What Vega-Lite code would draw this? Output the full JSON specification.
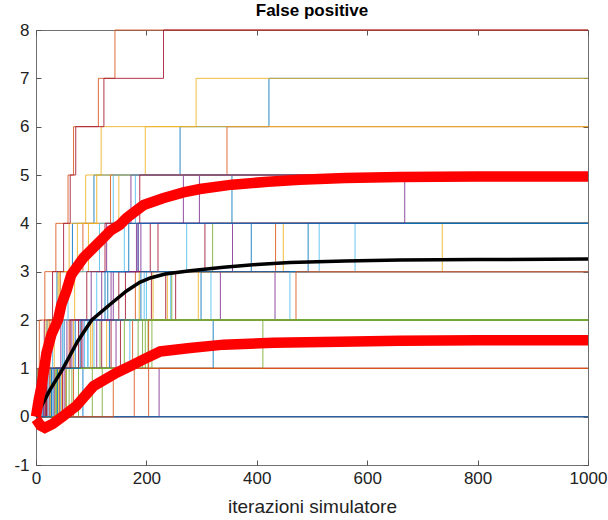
{
  "$schema": "https://vega.github.io/schema/vega-lite/v6.json",
  "width": 552,
  "height": 435,
  "autosize": "none",
  "padding": {"left": 36, "top": 30, "right": 20, "bottom": 55},
  "config": {
    "font": "Liberation Sans",
    "view": {"stroke": "#707070", "strokeWidth": 1},
    "axis": {"grid": false, "domain": false, "labelColor": "#222222", "tickColor": "#555555", "titleColor": "#222222"}
  },
  "title": {"text": "False positive", "fontSize": 17, "fontWeight": "bold", "color": "#000000", "offset": 1, "anchor": "middle"},
  "datasets": {
    "runs": [
      {"r":"r00","it":0,"fp":0},{"r":"r00","it":14,"fp":1},{"r":"r00","it":51,"fp":2},{"r":"r00","it":299,"fp":3},{"r":"r00","it":390,"fp":4},{"r":"r00","it":1000,"fp":4},
      {"r":"r01","it":0,"fp":0},{"r":"r01","it":3,"fp":1},{"r":"r01","it":6,"fp":2},{"r":"r01","it":16,"fp":3},{"r":"r01","it":36,"fp":4},{"r":"r01","it":58,"fp":5},{"r":"r01","it":68,"fp":6},{"r":"r01","it":113,"fp":7},{"r":"r01","it":143,"fp":8},{"r":"r01","it":1000,"fp":8},
      {"r":"r02","it":0,"fp":0},{"r":"r02","it":20,"fp":1},{"r":"r02","it":68,"fp":2},{"r":"r02","it":187,"fp":3},{"r":"r02","it":1000,"fp":3},
      {"r":"r03","it":0,"fp":0},{"r":"r03","it":31,"fp":1},{"r":"r03","it":110,"fp":2},{"r":"r03","it":433,"fp":3},{"r":"r03","it":1000,"fp":3},
      {"r":"r04","it":0,"fp":0},{"r":"r04","it":37,"fp":1},{"r":"r04","it":193,"fp":2},{"r":"r04","it":1000,"fp":2},
      {"r":"r05","it":0,"fp":0},{"r":"r05","it":17,"fp":1},{"r":"r05","it":94,"fp":2},{"r":"r05","it":244,"fp":3},{"r":"r05","it":1000,"fp":3},
      {"r":"r06","it":0,"fp":0},{"r":"r06","it":24,"fp":1},{"r":"r06","it":82,"fp":2},{"r":"r06","it":162,"fp":3},{"r":"r06","it":207,"fp":4},{"r":"r06","it":1000,"fp":4},
      {"r":"r07","it":0,"fp":0},{"r":"r07","it":27,"fp":1},{"r":"r07","it":71,"fp":2},{"r":"r07","it":130,"fp":3},{"r":"r07","it":185,"fp":4},{"r":"r07","it":355,"fp":5},{"r":"r07","it":1000,"fp":5},
      {"r":"r08","it":0,"fp":0},{"r":"r08","it":15,"fp":1},{"r":"r08","it":60,"fp":2},{"r":"r08","it":180,"fp":3},{"r":"r08","it":434,"fp":4},{"r":"r08","it":1000,"fp":4},
      {"r":"r09","it":0,"fp":0},{"r":"r09","it":41,"fp":1},{"r":"r09","it":102,"fp":2},{"r":"r09","it":238,"fp":3},{"r":"r09","it":736,"fp":4},{"r":"r09","it":1000,"fp":4},
      {"r":"r10","it":0,"fp":0},{"r":"r10","it":51,"fp":1},{"r":"r10","it":145,"fp":2},{"r":"r10","it":334,"fp":3},{"r":"r10","it":356,"fp":4},{"r":"r10","it":1000,"fp":4},
      {"r":"r11","it":0,"fp":0},{"r":"r11","it":60,"fp":1},{"r":"r11","it":198,"fp":2},{"r":"r11","it":1000,"fp":2},
      {"r":"r12","it":0,"fp":0},{"r":"r12","it":22,"fp":1},{"r":"r12","it":88,"fp":2},{"r":"r12","it":196,"fp":3},{"r":"r12","it":578,"fp":4},{"r":"r12","it":1000,"fp":4},
      {"r":"r13","it":0,"fp":0},{"r":"r13","it":34,"fp":1},{"r":"r13","it":119,"fp":2},{"r":"r13","it":235,"fp":3},{"r":"r13","it":306,"fp":4},{"r":"r13","it":1000,"fp":4},
      {"r":"r14","it":0,"fp":0},{"r":"r14","it":4,"fp":1},{"r":"r14","it":20,"fp":2},{"r":"r14","it":38,"fp":3},{"r":"r14","it":66,"fp":4},{"r":"r14","it":105,"fp":5},{"r":"r14","it":261,"fp":6},{"r":"r14","it":422,"fp":7},{"r":"r14","it":1000,"fp":7},
      {"r":"r15","it":0,"fp":0},{"r":"r15","it":68,"fp":1},{"r":"r15","it":175,"fp":2},{"r":"r15","it":1000,"fp":2},
      {"r":"r16","it":0,"fp":0},{"r":"r16","it":46,"fp":1},{"r":"r16","it":128,"fp":2},{"r":"r16","it":294,"fp":3},{"r":"r16","it":1000,"fp":3},
      {"r":"r17","it":0,"fp":0},{"r":"r17","it":12,"fp":1},{"r":"r17","it":56,"fp":2},{"r":"r17","it":119,"fp":3},{"r":"r17","it":190,"fp":4},{"r":"r17","it":267,"fp":5},{"r":"r17","it":1000,"fp":5},
      {"r":"r18","it":0,"fp":0},{"r":"r18","it":77,"fp":1},{"r":"r18","it":203,"fp":2},{"r":"r18","it":1000,"fp":2},
      {"r":"r19","it":0,"fp":0},{"r":"r19","it":32,"fp":1},{"r":"r19","it":105,"fp":2},{"r":"r19","it":317,"fp":3},{"r":"r19","it":513,"fp":4},{"r":"r19","it":1000,"fp":4},
      {"r":"r20","it":0,"fp":0},{"r":"r20","it":43,"fp":1},{"r":"r20","it":136,"fp":2},{"r":"r20","it":253,"fp":3},{"r":"r20","it":1000,"fp":3},
      {"r":"r21","it":0,"fp":0},{"r":"r21","it":85,"fp":1},{"r":"r21","it":321,"fp":2},{"r":"r21","it":1000,"fp":2},
      {"r":"r22","it":0,"fp":0},{"r":"r22","it":6,"fp":1},{"r":"r22","it":25,"fp":2},{"r":"r22","it":44,"fp":3},{"r":"r22","it":85,"fp":4},{"r":"r22","it":135,"fp":5},{"r":"r22","it":346,"fp":6},{"r":"r22","it":1000,"fp":6},
      {"r":"r23","it":0,"fp":0},{"r":"r23","it":26,"fp":1},{"r":"r23","it":99,"fp":2},{"r":"r23","it":212,"fp":3},{"r":"r23","it":448,"fp":4},{"r":"r23","it":1000,"fp":4},
      {"r":"r24","it":0,"fp":0},{"r":"r24","it":223,"fp":1},{"r":"r24","it":1000,"fp":1},
      {"r":"r25","it":0,"fp":0},{"r":"r25","it":36,"fp":1},{"r":"r25","it":116,"fp":2},{"r":"r25","it":246,"fp":3},{"r":"r25","it":320,"fp":4},{"r":"r25","it":1000,"fp":4},
      {"r":"r26","it":0,"fp":0},{"r":"r26","it":29,"fp":1},{"r":"r26","it":94,"fp":2},{"r":"r26","it":200,"fp":3},{"r":"r26","it":273,"fp":4},{"r":"r26","it":1000,"fp":4},
      {"r":"r27","it":0,"fp":0},{"r":"r27","it":48,"fp":1},{"r":"r27","it":153,"fp":2},{"r":"r27","it":209,"fp":3},{"r":"r27","it":1000,"fp":3},
      {"r":"r28","it":0,"fp":0},{"r":"r28","it":1000,"fp":0},
      {"r":"r29","it":0,"fp":0},{"r":"r29","it":204,"fp":1},{"r":"r29","it":1000,"fp":1},
      {"r":"r30","it":0,"fp":0},{"r":"r30","it":8,"fp":1},{"r":"r30","it":22,"fp":2},{"r":"r30","it":42,"fp":3},{"r":"r30","it":75,"fp":4},{"r":"r30","it":110,"fp":5},{"r":"r30","it":198,"fp":6},{"r":"r30","it":1000,"fp":6},
      {"r":"r31","it":0,"fp":0},{"r":"r31","it":20,"fp":1},{"r":"r31","it":65,"fp":2},{"r":"r31","it":136,"fp":3},{"r":"r31","it":182,"fp":4},{"r":"r31","it":296,"fp":5},{"r":"r31","it":1000,"fp":5},
      {"r":"r32","it":0,"fp":0},{"r":"r32","it":102,"fp":1},{"r":"r32","it":411,"fp":2},{"r":"r32","it":1000,"fp":2},
      {"r":"r33","it":0,"fp":0},{"r":"r33","it":44,"fp":1},{"r":"r33","it":170,"fp":2},{"r":"r33","it":460,"fp":3},{"r":"r33","it":1000,"fp":3},
      {"r":"r34","it":0,"fp":0},{"r":"r34","it":19,"fp":1},{"r":"r34","it":77,"fp":2},{"r":"r34","it":150,"fp":3},{"r":"r34","it":221,"fp":4},{"r":"r34","it":1000,"fp":4},
      {"r":"r35","it":0,"fp":0},{"r":"r35","it":39,"fp":1},{"r":"r35","it":133,"fp":2},{"r":"r35","it":190,"fp":3},{"r":"r35","it":493,"fp":4},{"r":"r35","it":1000,"fp":4},
      {"r":"r36","it":0,"fp":0},{"r":"r36","it":54,"fp":1},{"r":"r36","it":204,"fp":2},{"r":"r36","it":471,"fp":3},{"r":"r36","it":1000,"fp":3},
      {"r":"r37","it":0,"fp":0},{"r":"r37","it":4,"fp":1},{"r":"r37","it":18,"fp":2},{"r":"r37","it":40,"fp":3},{"r":"r37","it":60,"fp":4},{"r":"r37","it":90,"fp":5},{"r":"r37","it":118,"fp":6},{"r":"r37","it":290,"fp":7},{"r":"r37","it":1000,"fp":7},
      {"r":"r38","it":0,"fp":0},{"r":"r38","it":17,"fp":1},{"r":"r38","it":85,"fp":2},{"r":"r38","it":140,"fp":3},{"r":"r38","it":185,"fp":4},{"r":"r38","it":668,"fp":5},{"r":"r38","it":1000,"fp":5},
      {"r":"r39","it":0,"fp":0},{"r":"r39","it":65,"fp":1},{"r":"r39","it":210,"fp":2},{"r":"r39","it":1000,"fp":2},
      {"r":"r40","it":0,"fp":0},{"r":"r40","it":12,"fp":1},{"r":"r40","it":48,"fp":2},{"r":"r40","it":110,"fp":3},{"r":"r40","it":160,"fp":4},{"r":"r40","it":180,"fp":5},{"r":"r40","it":1000,"fp":5},
      {"r":"r41","it":0,"fp":0},{"r":"r41","it":5,"fp":1},{"r":"r41","it":15,"fp":2},{"r":"r41","it":30,"fp":3},{"r":"r41","it":50,"fp":4},{"r":"r41","it":62,"fp":5},{"r":"r41","it":72,"fp":6},{"r":"r41","it":123,"fp":7},{"r":"r41","it":231,"fp":8},{"r":"r41","it":1000,"fp":8},
      {"r":"r42","it":0,"fp":0},{"r":"r42","it":1000,"fp":0},
      {"r":"r43","it":0,"fp":0},{"r":"r43","it":178,"fp":1},{"r":"r43","it":1000,"fp":1},
      {"r":"r44","it":0,"fp":0},{"r":"r44","it":1000,"fp":0},
      {"r":"r45","it":0,"fp":0},{"r":"r45","it":1000,"fp":0},
      {"r":"r46","it":0,"fp":0},{"r":"r46","it":120,"fp":1},{"r":"r46","it":185,"fp":2},{"r":"r46","it":1000,"fp":2},
      {"r":"r47","it":0,"fp":0},{"r":"r47","it":1000,"fp":0},
      {"r":"r48","it":0,"fp":0},{"r":"r48","it":1000,"fp":0},
      {"r":"r49","it":0,"fp":0},{"r":"r49","it":1000,"fp":0},
      {"r":"r50","it":0,"fp":0},{"r":"r50","it":140,"fp":1},{"r":"r50","it":1000,"fp":1},
      {"r":"r51","it":0,"fp":0},{"r":"r51","it":9,"fp":1},{"r":"r51","it":33,"fp":2},{"r":"r51","it":70,"fp":3},{"r":"r51","it":95,"fp":4},{"r":"r51","it":150,"fp":5},{"r":"r51","it":1000,"fp":5},
      {"r":"r52","it":0,"fp":0},{"r":"r52","it":14,"fp":1},{"r":"r52","it":45,"fp":2},{"r":"r52","it":100,"fp":3},{"r":"r52","it":128,"fp":4},{"r":"r52","it":172,"fp":5},{"r":"r52","it":1000,"fp":5},
      {"r":"r53","it":0,"fp":0},{"r":"r53","it":55,"fp":1},{"r":"r53","it":160,"fp":2},{"r":"r53","it":1000,"fp":2},
      {"r":"r54","it":0,"fp":0},{"r":"r54","it":10,"fp":1},{"r":"r54","it":30,"fp":2},{"r":"r54","it":58,"fp":3},{"r":"r54","it":115,"fp":4},{"r":"r54","it":140,"fp":5},{"r":"r54","it":1000,"fp":5},
      {"r":"r55","it":0,"fp":0},{"r":"r55","it":18,"fp":1},{"r":"r55","it":62,"fp":2},{"r":"r55","it":92,"fp":3},{"r":"r55","it":125,"fp":4},{"r":"r55","it":188,"fp":5},{"r":"r55","it":1000,"fp":5},
      {"r":"r56","it":0,"fp":0},{"r":"r56","it":28,"fp":1},{"r":"r56","it":80,"fp":2},{"r":"r56","it":125,"fp":3},{"r":"r56","it":168,"fp":4},{"r":"r56","it":1000,"fp":4}
    ],
    "stats": [
      {"s":"media","it":0,"v":0},{"s":"media","it":10,"v":0.22},{"s":"media","it":25,"v":0.55},{"s":"media","it":49,"v":1.0},{"s":"media","it":75,"v":1.55},{"s":"media","it":101,"v":2.0},{"s":"media","it":134,"v":2.32},{"s":"media","it":164,"v":2.6},{"s":"media","it":188,"v":2.78},{"s":"media","it":207,"v":2.87},{"s":"media","it":234,"v":2.95},{"s":"media","it":279,"v":3.02},{"s":"media","it":340,"v":3.09},{"s":"media","it":400,"v":3.15},{"s":"media","it":460,"v":3.19},{"s":"media","it":560,"v":3.22},{"s":"media","it":659,"v":3.24},{"s":"media","it":800,"v":3.25},{"s":"media","it":1000,"v":3.26},
      {"s":"sup","it":0,"v":0},{"s":"sup","it":5,"v":0.35},{"s":"sup","it":10,"v":0.63},{"s":"sup","it":19,"v":1.32},{"s":"sup","it":28,"v":1.7},{"s":"sup","it":40,"v":2.01},{"s":"sup","it":46,"v":2.32},{"s":"sup","it":55,"v":2.6},{"s":"sup","it":64,"v":2.94},{"s":"sup","it":86,"v":3.29},{"s":"sup","it":116,"v":3.63},{"s":"sup","it":135,"v":3.85},{"s":"sup","it":152,"v":3.97},{"s":"sup","it":164,"v":4.11},{"s":"sup","it":195,"v":4.38},{"s":"sup","it":230,"v":4.52},{"s":"sup","it":267,"v":4.64},{"s":"sup","it":297,"v":4.71},{"s":"sup","it":355,"v":4.8},{"s":"sup","it":420,"v":4.86},{"s":"sup","it":478,"v":4.9},{"s":"sup","it":560,"v":4.94},{"s":"sup","it":659,"v":4.96},{"s":"sup","it":800,"v":4.97},{"s":"sup","it":1000,"v":4.97},
      {"s":"inf","it":0,"v":-0.05},{"s":"inf","it":8,"v":-0.18},{"s":"inf","it":16,"v":-0.23},{"s":"inf","it":30,"v":-0.15},{"s":"inf","it":49,"v":0.01},{"s":"inf","it":73,"v":0.22},{"s":"inf","it":104,"v":0.63},{"s":"inf","it":146,"v":0.91},{"s":"inf","it":175,"v":1.07},{"s":"inf","it":194,"v":1.18},{"s":"inf","it":225,"v":1.35},{"s":"inf","it":279,"v":1.42},{"s":"inf","it":340,"v":1.49},{"s":"inf","it":430,"v":1.53},{"s":"inf","it":550,"v":1.55},{"s":"inf","it":659,"v":1.57},{"s":"inf","it":800,"v":1.58},{"s":"inf","it":1000,"v":1.58}
    ]
  },
  "resolve": {"axis": {"x": "independent", "y": "independent"}},
  "layer": [
    {
      "data": {"name": "runs"},
      "mark": {"type": "line", "interpolate": "step-after", "strokeWidth": 1, "opacity": 0.85},
      "encoding": {
        "x": {"field": "it", "type": "quantitative", "scale": {"domain": [0, 1000], "nice": false},
              "axis": {"values": [0, 200, 400, 600, 800, 1000], "format": "d", "title": "iterazioni simulatore", "titleFontSize": 19, "titleFontWeight": "normal", "titlePadding": 11, "labelFontSize": 17, "labelPadding": 10, "tickSize": -5, "labelFlush": false}},
        "y": {"field": "fp", "type": "quantitative", "scale": {"domain": [-1, 8], "nice": false},
              "axis": {"values": [-1, 0, 1, 2, 3, 4, 5, 6, 7, 8], "title": null, "labelFontSize": 17, "labelPadding": 12, "tickSize": -5, "labelExpr": "replace(datum.label, '\u2212', '-')"}},
        "color": {"field": "r", "type": "nominal", "legend": null,
                  "scale": {"range": ["#0072BD", "#D95319", "#EDB120", "#7E2F8E", "#77AC30", "#4DBEEE", "#A2142F"]}}
      }
    },
    {
      "data": {"name": "stats"},
      "transform": [{"filter": "datum.s == 'media'"}],
      "mark": {"type": "line", "color": "#000000", "strokeWidth": 3.5},
      "encoding": {
        "x": {"field": "it", "type": "quantitative", "axis": {"orient": "top", "values": [0, 200, 400, 600, 800, 1000], "labels": false, "title": null, "tickSize": -5}},
        "y": {"field": "v", "type": "quantitative", "axis": {"orient": "right", "values": [-1, 0, 1, 2, 3, 4, 5, 6, 7, 8], "labels": false, "title": null, "tickSize": -5}}
      }
    },
    {
      "data": {"name": "stats"},
      "transform": [{"filter": "datum.s != 'media'"}],
      "mark": {"type": "line", "color": "#ff0000", "strokeWidth": 10.5},
      "encoding": {
        "x": {"field": "it", "type": "quantitative", "axis": null},
        "y": {"field": "v", "type": "quantitative", "axis": null},
        "detail": {"field": "s"}
      }
    }
  ]
}
